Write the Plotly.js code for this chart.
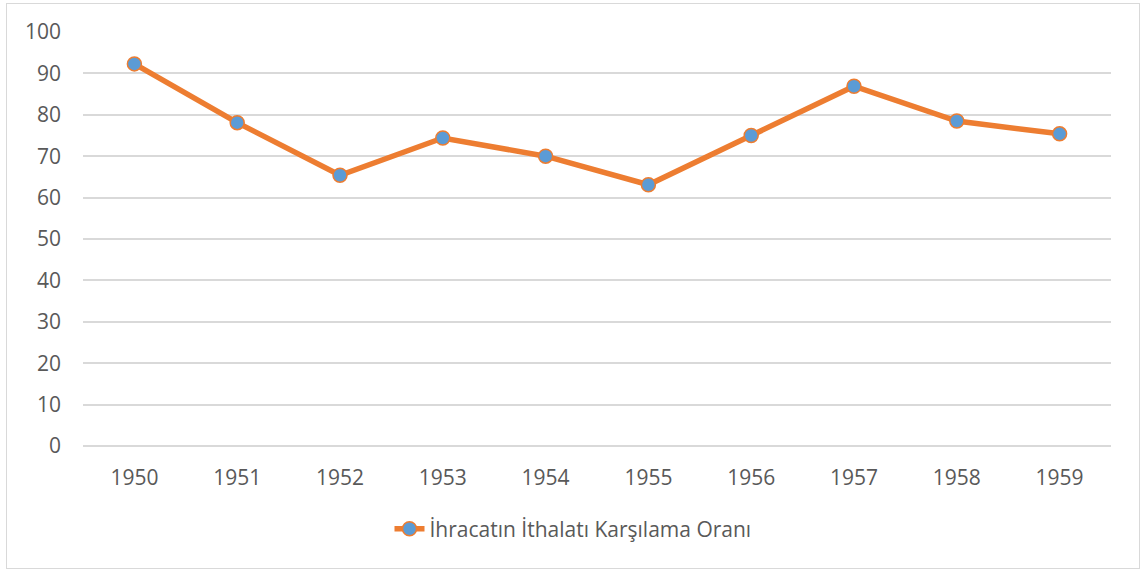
<!DOCTYPE html>
<html>
<head>
<meta charset="utf-8">
<script src="https://cdn.plot.ly/plotly-3.0.1.min.js"></script>
<style>
html,body{margin:0;padding:0;background:#fff;}
#wrap{position:relative;width:1146px;height:572px;}
#chart{width:1146px;height:572px;}
#frame{position:absolute;left:6px;top:3px;width:1132px;height:564px;border:1px solid #d9d9d9;pointer-events:none;}
</style>
</head>
<body>
<div id="wrap"><div id="chart"></div><div id="frame"></div></div>
<script>
const years = ['1950','1951','1952','1953','1954','1955','1956','1957','1958','1959'];
const ratio = [92.3, 78.1, 65.4, 74.4, 70.0, 63.1, 75.0, 86.9, 78.5, 75.4];
const seriesName = 'İhracatın İthalatı Karşılama Oranı';
const yTicks = [0,10,20,30,40,50,60,70,80,90,100];

const trace = {
  x: years, y: ratio, name: seriesName, type: 'scatter', mode: 'lines+markers',
  line: {color: '#ED7D31', width: 5.5},
  marker: {color: '#5B9BD5', size: 14, line: {color: '#ED7D31', width: 1.5}}
};
const font = {family: 'Open Sans, Liberation Sans, sans-serif', size: 21, color: '#595959'};
const layout = {
  width: 1146, height: 572,
  margin: {l: 83, r: 35, t: 31.5, b: 126},
  paper_bgcolor: '#fff', plot_bgcolor: '#fff',
  font: font,
  showlegend: true,
  legend: {orientation: 'h', xref: 'container', yref: 'container', x: 0.5, xanchor: 'center', y: 0.075, yanchor: 'middle', font: font},
  xaxis: {type: 'category', showgrid: false, zeroline: false, showline: false, ticks: '', ticklabelstandoff: 17, tickfont: font, range: [-0.5, 9.5]},
  yaxis: {range: [0, 100], tickvals: yTicks, ticktext: yTicks.map(String), showgrid: true, gridcolor: '#d9d9d9', gridwidth: 1.5, zeroline: true, zerolinecolor: '#d9d9d9', zerolinewidth: 1.5, showline: false, ticks: '', ticklabelstandoff: 21, tickfont: font}
};
Plotly.newPlot('chart', [trace], layout, {displayModeBar: false});
</script>
</body>
</html>
